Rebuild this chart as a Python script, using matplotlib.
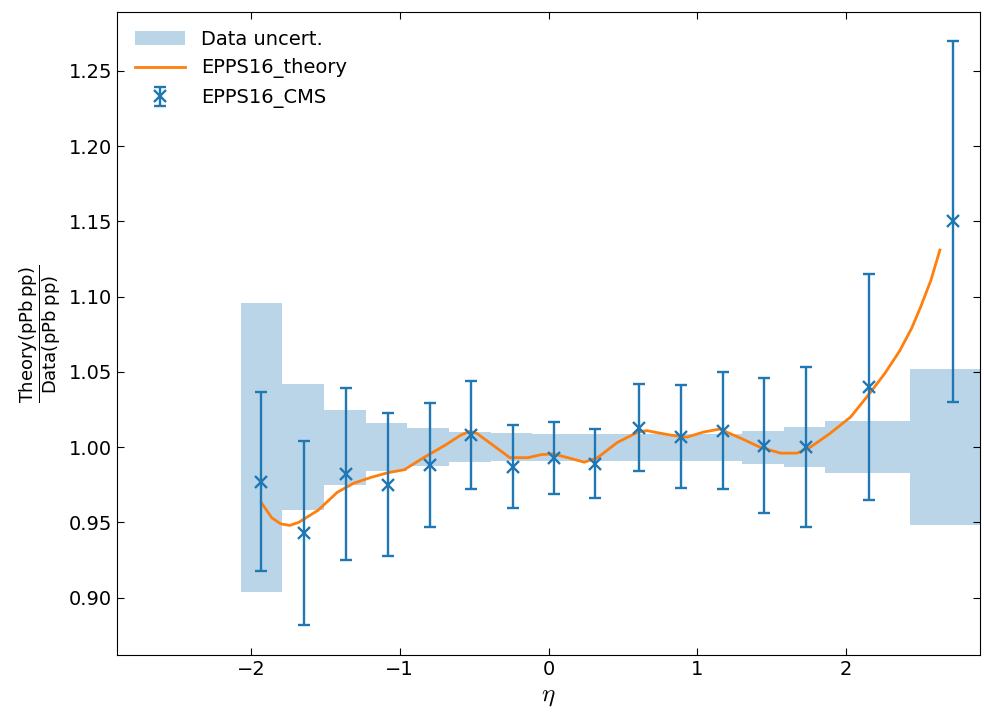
import numpy as np
import matplotlib
matplotlib.use('Agg')
from matplotlib import pyplot as plt

# CMS points
eta = [-1.93, -1.645, -1.36, -1.08, -0.80, -0.52, -0.24, 0.035, 0.315,
       0.61, 0.89, 1.17, 1.45, 1.73, 2.155, 2.72]
ratio = [0.977, 0.943, 0.982, 0.975, 0.988, 1.008, 0.987, 0.993, 0.989,
         1.013, 1.007, 1.011, 1.001, 1.000, 1.040, 1.150]
ratio_err = [0.0595, 0.061, 0.057, 0.0475, 0.041, 0.036, 0.0275, 0.024, 0.023,
             0.029, 0.034, 0.039, 0.045, 0.053, 0.075, 0.12]

# data uncertainty band (bins)
bin_edges = [-2.07, -1.79, -1.51, -1.23, -0.95, -0.67, -0.39, -0.11, 0.17,
             0.45, 0.73, 1.01, 1.30, 1.58, 1.86, 2.43, 3.0]
band_half = [0.096, 0.042, 0.025, 0.016, 0.0125, 0.010, 0.0095, 0.009, 0.009,
             0.009, 0.009, 0.009, 0.011, 0.0135, 0.0175, 0.052]

# theory curve
th_eta = [-1.93, -1.86, -1.80, -1.74, -1.68, -1.55, -1.42, -1.31, -1.19, -1.08, -0.97, -0.84,
          -0.70, -0.59, -0.53, -0.48, -0.37, -0.26, -0.14, -0.05, 0.03, 0.13, 0.24,
          0.33, 0.46, 0.60, 0.66, 0.71, 0.82, 0.93, 1.04, 1.15, 1.29, 1.42, 1.56,
          1.67, 1.76, 1.89, 2.03, 2.16, 2.26, 2.36, 2.44, 2.50, 2.57, 2.63]
th_ratio = [0.963, 0.953, 0.949, 0.948, 0.950, 0.958, 0.970, 0.976, 0.980, 0.983, 0.985, 0.993,
            1.001, 1.008, 1.0105, 1.009, 1.001, 0.993, 0.993, 0.995, 0.9955, 0.993, 0.990,
            0.993, 1.003, 1.010, 1.011, 1.010, 1.008, 1.0066, 1.010, 1.012, 1.006, 1.000, 0.996,
            0.996, 1.000, 1.009, 1.020, 1.036, 1.049, 1.064, 1.079, 1.093, 1.111, 1.131]

plt.rcParams['font.size'] = 14

fig = plt.figure(figsize=(9.84, 7.18), dpi=100)
ax = fig.add_axes([0.119, 0.088, 0.877, 0.895])

edges = np.array(bin_edges)
half = np.array(band_half)
band = ax.bar(edges[:-1], 2 * half, width=np.diff(edges), bottom=1 - half,
              align='edge', color='C0', alpha=0.3, linewidth=0, label='Data uncert.')
line, = ax.plot(th_eta, th_ratio, color='C1', lw=2, label='EPPS16_theory')
eb = ax.errorbar(eta, ratio, yerr=ratio_err, fmt='x', color='C0', ms=8.5, mew=1.7,
                 elinewidth=1.7, capsize=4.5, capthick=1.7, label='EPPS16_CMS')

ax.set_xlim(-2.9, 2.9)
ax.set_ylim(0.862, 1.289)
ax.tick_params(direction='in', top=True, right=True, length=5, labelsize=14)
ax.set_xlabel(r'$\eta$', fontsize=18, math_fontfamily='cm')
ax.set_ylabel(r'$\dfrac{\mathrm{Theory(pPb\,pp)}}{\mathrm{Data(pPb\;pp)}}$',
              fontsize=13, math_fontfamily='dejavusans')
ax.legend([band, line, eb], ['Data uncert.', 'EPPS16_theory', 'EPPS16_CMS'],
          loc='upper left', frameon=False, fontsize=14, handlelength=2.6)

fig.savefig('out.png', dpi=100)
